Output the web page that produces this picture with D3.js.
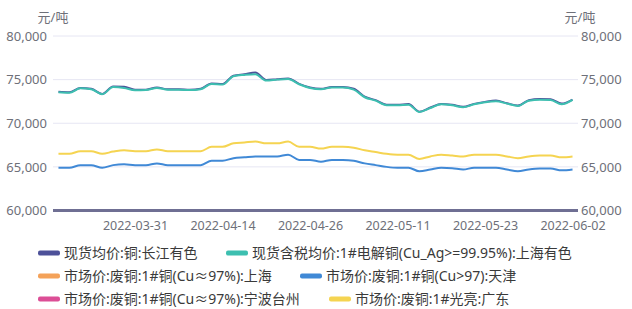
<!DOCTYPE html>
<html><head><meta charset="utf-8">
<script src="https://cdn.jsdelivr.net/npm/d3@7"></script>
<style>
html,body{margin:0;padding:0;background:#fff;}
svg{display:block;font-family:"Noto Sans","Noto Sans CJK SC",sans-serif;}
</style></head>
<body><svg id="c" width="632" height="309"></svg>
<script>
const dates = ["2022-03-22","2022-03-23","2022-03-24","2022-03-25","2022-03-28","2022-03-29","2022-03-30","2022-03-31",
"2022-04-01","2022-04-06","2022-04-07","2022-04-08","2022-04-11","2022-04-12","2022-04-13","2022-04-14",
"2022-04-15","2022-04-18","2022-04-19","2022-04-20","2022-04-21","2022-04-22","2022-04-25","2022-04-26",
"2022-04-27","2022-04-28","2022-04-29","2022-05-05","2022-05-06","2022-05-09","2022-05-10","2022-05-11",
"2022-05-12","2022-05-13","2022-05-16","2022-05-17","2022-05-18","2022-05-19","2022-05-20","2022-05-23",
"2022-05-24","2022-05-25","2022-05-26","2022-05-27","2022-05-30","2022-05-31","2022-06-01","2022-06-02"];
const xTickLabels = ["2022-03-31","2022-04-14","2022-04-26","2022-05-11","2022-05-23","2022-06-02"];
const yTicks = [60000,65000,70000,75000,80000];

const changjiang = [73600,73550,74050,73950,73350,74200,74180,73850,73850,74100,73900,73900,73850,73950,74550,74500,
75450,75620,75820,74950,75050,75130,74520,74100,73950,74150,74150,73950,73050,72650,72120,72120,
72200,71330,71800,72220,72120,71880,72220,72450,72600,72300,72030,72640,72780,72750,72250,72720];
const shanghaiYS = [73550,73500,74000,73900,73330,74150,74050,73780,73800,74050,73850,73850,73800,73900,74500,74430,
75390,75540,75620,74890,75000,75080,74470,74050,73900,74090,74090,73860,72980,72590,72060,72060,
72130,71290,71750,72170,72060,71830,72170,72400,72520,72250,71980,72590,72700,72660,72170,72670];
const scrapShanghai = dates.map(() => null);
const scrapTianjin = [64900,64900,65200,65200,64900,65200,65300,65200,65200,65400,65200,65200,65200,65200,65700,65700,
66000,66100,66200,66200,66200,66400,65800,65800,65600,65800,65800,65700,65400,65200,65000,64900,
64900,64500,64700,64900,64850,64700,64900,64900,64900,64700,64500,64700,64800,64800,64600,64700];
const scrapNingbo = dates.map(() => null);
const scrapGuangdong = [66500,66500,66800,66800,66500,66750,66900,66800,66800,67000,66800,66800,66800,66800,67300,67300,
67700,67800,67900,67700,67700,67900,67300,67300,67100,67300,67300,67200,66900,66700,66500,66400,
66400,65900,66200,66400,66300,66200,66400,66400,66400,66200,66000,66200,66300,66300,66100,66200];

const seriesNames = ["现货均价:铜:长江有色","现货含税均价:1#电解铜(Cu_Ag>=99.95%):上海有色",
"市场价:废铜:1#铜(Cu≈97%):上海","市场价:废铜:1#铜(Cu>97):天津",
"市场价:废铜:1#铜(Cu≈97%):宁波台州","市场价:废铜:1#光亮:广东"];
const seriesValues = [changjiang, shanghaiYS, scrapShanghai, scrapTianjin, scrapNingbo, scrapGuangdong];
const colors = ["#4d5199","#3dbfb0","#f4a259","#4089d6","#dc4e96","#f5d451"];

const svg = d3.select("#c");
const L = 53, R = 578, T = 36, B = 210.5;
const x = d3.scalePoint().domain(dates).range([L, R]).padding(0.5);
const y = d3.scaleLinear().domain([60000, 80000]).range([B, T]);
const fmt = d3.format(",");
const axisColor = "#6e7079";
const FF = '"Noto Sans","Noto Sans CJK SC",sans-serif';

// grid
svg.append("g").selectAll("line").data(yTicks.filter(d => d > 60000)).join("line")
  .attr("x1", L).attr("x2", R).attr("y1", d => y(d)).attr("y2", d => y(d))
  .attr("stroke", "#e6e6f3").attr("stroke-width", 1);

// y axes (labels only)
const yl = d3.axisLeft(y).tickValues(yTicks).tickFormat(fmt).tickSize(0).tickPadding(6);
const gl = svg.append("g").attr("transform", `translate(${L},0)`).call(yl);
const yr = d3.axisRight(y).tickValues(yTicks).tickFormat(fmt).tickSize(0).tickPadding(3);
const gr = svg.append("g").attr("transform", `translate(${R},0)`).call(yr);
[gl, gr].forEach(g => {
  g.select(".domain").remove();
  g.selectAll("text").attr("fill", axisColor).attr("font-size", 13).attr("font-family", FF);
});

// units
svg.append("text").attr("x", 53).attr("y", 22).attr("text-anchor", "middle")
  .attr("fill", axisColor).attr("font-size", 13).text("元/吨");
svg.append("text").attr("x", 580).attr("y", 22).attr("text-anchor", "middle")
  .attr("fill", axisColor).attr("font-size", 13).text("元/吨");

// x axis
const xa = d3.axisBottom(x).tickValues(xTickLabels).tickSize(0).tickPadding(11);
const gx = svg.append("g").attr("transform", `translate(0,${B})`).call(xa);
gx.select(".domain").remove();
gx.selectAll("text").attr("fill", axisColor).attr("font-size", 12.5).attr("font-family", FF);
svg.append("line").attr("x1", L).attr("x2", R).attr("y1", y(60000)).attr("y2", y(60000))
  .attr("stroke", "#6f6f93").attr("stroke-width", 3);

// lines
const line = d3.line().defined(d => d[1] != null)
  .x(d => x(d[0])).y(d => y(d[1])).curve(d3.curveMonotoneX);
seriesValues.forEach((vals, k) => {
  const pts = dates.map((dt, i) => [dt, vals[i]]);
  svg.append("path").datum(pts).attr("d", line).attr("fill", "none")
    .attr("stroke", colors[k]).attr("stroke-width", 2).attr("stroke-linejoin", "round");
});

// legend
const legendPos = [[38,253],[226,253],[38,276],[300,276],[38,299],[329,299]];
const lg = svg.append("g");
seriesNames.forEach((name, k) => {
  const [lx, ly] = legendPos[k];
  lg.append("rect").attr("x", lx).attr("y", ly - 2.5).attr("width", 22).attr("height", 5)
    .attr("rx", 2).attr("fill", colors[k]);
  lg.append("text").attr("x", lx + 26).attr("y", ly).attr("dy", "0.35em")
    .attr("font-size", 14).attr("fill", "#3a3a3a").text(name);
});
</script></body></html>
